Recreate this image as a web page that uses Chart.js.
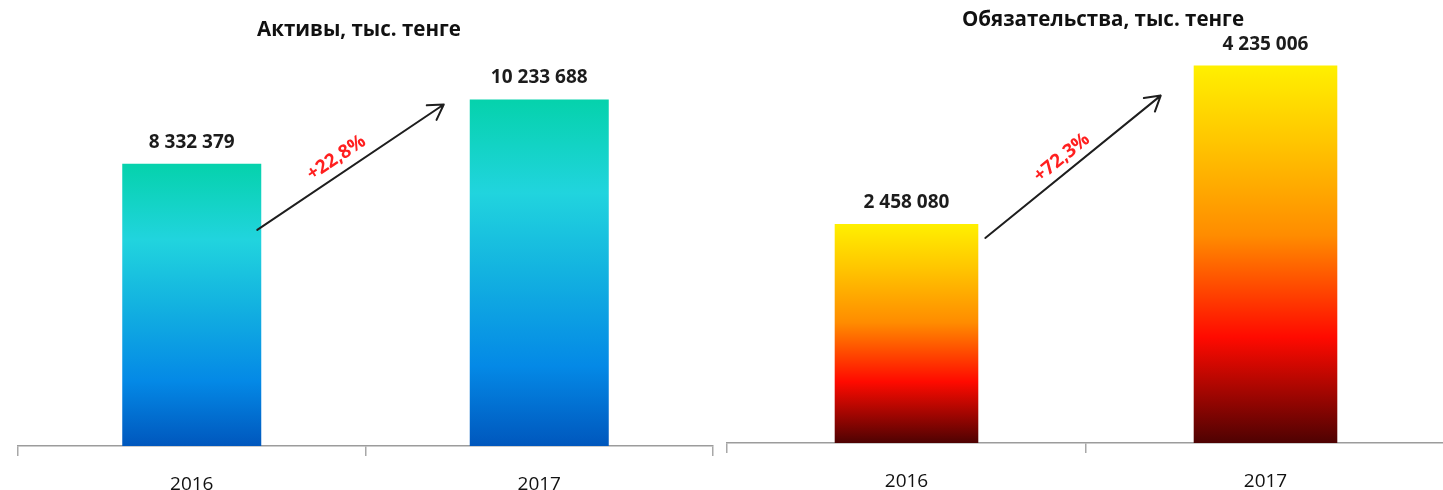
<!DOCTYPE html>
<html><head><meta charset="utf-8">
<script src="https://cdn.jsdelivr.net/npm/chart.js@4.4.0/dist/chart.umd.min.js"></script>
<style>
html,body{margin:0;padding:0;background:#fff;overflow:hidden;width:1443px;height:490px;}
#wl{position:absolute;left:0;top:0;width:720px;height:490px;}
#wr{position:absolute;left:720px;top:0;width:740px;height:490px;}
</style></head><body>
<div id="wl"><canvas id="cl" width="720" height="490"></canvas></div>
<div id="wr"><canvas id="cr" width="740" height="490"></canvas></div>
<script>
// ---- data ----
const years = ['2016', '2017'];
const assets = [8332379, 10233688];
const liabilities = [2458080, 4235006];
const titleAssets = 'Активы, тыс. тенге';
const titleLiab = 'Обязательства, тыс. тенге';

// ---- helpers ----
const FONT = '"Open Sans", "DejaVu Sans", sans-serif';
const fmt = v => String(v).replace(/\B(?=(\d{3})+(?!\d))/g, ' ');
const pct = (a, b) => '+' + ((b / a - 1) * 100).toFixed(1).replace('.', ',') + '%';

const blueStops = [[0, '#05D2AC'], [0.27, '#21D4DE'], [0.5, '#13B2E0'], [0.77, '#0489E6'], [1, '#0057BD']];
const fireStops = [[0, '#FFF000'], [0.2, '#FFC600'], [0.45, '#FF8C00'], [0.72, '#FF0A00'], [1, '#4E0202']];

function gradFill(stops) {
  return function (ctx) {
    const chart = ctx.chart;
    if (!chart.chartArea || ctx.type !== 'data') return stops[0][1];
    const ys = chart.scales.y;
    const v = ctx.raw;
    const top = ys.getPixelForValue(v), bot = ys.getPixelForValue(0);
    const g = chart.ctx.createLinearGradient(0, top, 0, bot);
    stops.forEach(s => g.addColorStop(s[0], s[1]));
    return g;
  };
}

const annotate = {
  id: 'annotate',
  afterDatasetsDraw(chart, args, o) {
    const ctx = chart.ctx;
    const meta = chart.getDatasetMeta(0);
    const data = chart.data.datasets[0].data;
    ctx.save();
    // title
    ctx.font = 'bold ' + o.titleSize + 'px ' + FONT;
    ctx.fillStyle = '#111';
    ctx.textAlign = 'center';
    ctx.textBaseline = 'middle';
    ctx.fillText(o.title, o.titleX, o.titleY);
    // value labels
    ctx.font = 'bold 19px ' + FONT;
    ctx.fillStyle = '#1c1c1c';
    ctx.textBaseline = 'alphabetic';
    meta.data.forEach((bar, i) => ctx.fillText(fmt(data[i]), bar.x, bar.y - o.labelGap));
    // arrow
    const b1 = meta.data[0], b2 = meta.data[1];
    const sx = b1.x + b1.width / 2 + o.start[0], sy = b1.y + o.start[1];
    const ex = b2.x - b2.width / 2 + o.end[0], ey = b2.y + o.end[1];
    const ang = Math.atan2(ey - sy, ex - sx);
    ctx.strokeStyle = '#1e1e1e';
    ctx.lineWidth = 2;
    ctx.lineCap = 'round';
    ctx.lineJoin = 'round';
    ctx.beginPath();
    ctx.moveTo(sx, sy); ctx.lineTo(ex, ey);
    const hl = 17, ha = 0.54;
    ctx.moveTo(ex + hl * Math.cos(ang + Math.PI - ha), ey + hl * Math.sin(ang + Math.PI - ha));
    ctx.lineTo(ex, ey);
    ctx.lineTo(ex + hl * Math.cos(ang + Math.PI + ha), ey + hl * Math.sin(ang + Math.PI + ha));
    ctx.stroke();
    // percent text
    const dx = Math.cos(ang), dy = Math.sin(ang);
    const px = dy, py = -dx;
    const mx = (sx + ex) / 2 + o.along * dx + o.off * px;
    const my = (sy + ey) / 2 + o.along * dy + o.off * py;
    ctx.translate(mx, my);
    ctx.rotate(ang);
    ctx.font = 'bold 19px ' + FONT;
    ctx.fillStyle = '#FF1F1F';
    ctx.textBaseline = 'middle';
    ctx.fillText(pct(data[0], data[1]), 0, 0);
    ctx.restore();
  }
};

function makeChart(id, values, stops, yMax, pad, axisH, ann) {
  return new Chart(document.getElementById(id), {
    type: 'bar',
    data: {
      labels: years,
      datasets: [{
        data: values,
        backgroundColor: gradFill(stops),
        borderWidth: 0,
        barPercentage: 0.4,
        categoryPercentage: 1
      }]
    },
    options: {
      responsive: false,
      animation: false,
      devicePixelRatio: 1,
      layout: { padding: pad },
      plugins: {
        legend: { display: false },
        tooltip: { enabled: false },
        title: { display: false },
        annotate: ann
      },
      scales: {
        x: {
          grid: { display: true, drawOnChartArea: false, drawTicks: true, tickLength: 10, color: '#a8a8a8', lineWidth: 1.5, offset: true },
          border: { display: true, color: '#9c9c9c', width: 1.5 },
          ticks: { font: { family: FONT, size: 19 }, color: '#111', padding: 17 },
          afterFit(s) { s.height = axisH; }
        },
        y: { display: false, min: 0, max: yMax }
      }
    },
    plugins: [annotate]
  });
}

makeChart('cl', assets, blueStops, 11400000, { left: 18, right: 7, top: 60, bottom: 0 }, 44, {
  title: titleAssets, titleX: 359, titleY: 30, titleSize: 20.5,
  labelGap: 16, start: [-4, 66], end: [-26, 5], along: -6.5, off: 15.5
});
makeChart('cr', liabilities, fireStops, 4500000, { left: 7, right: 15, top: 42, bottom: 0 }, 47, {
  title: titleLiab, titleX: 383, titleY: 20, titleSize: 20.5,
  labelGap: 16, start: [7, 14], end: [-33, 30], along: -3, off: 14
});
</script>
</body></html>
